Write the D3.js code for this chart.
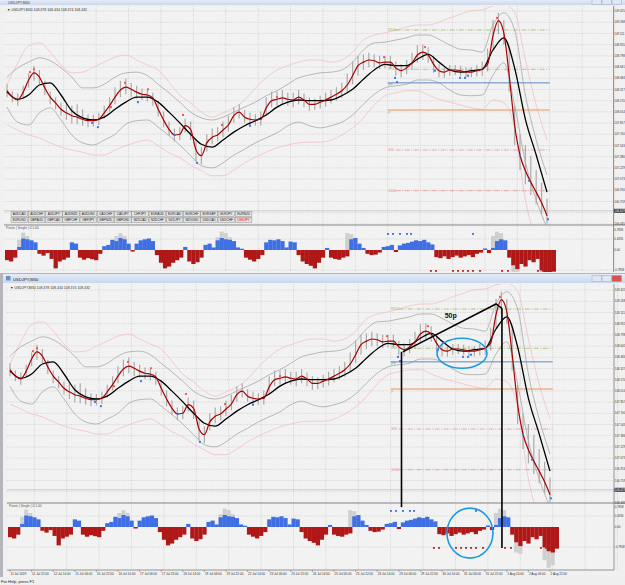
<!DOCTYPE html>
<html>
<head>
<meta charset="utf-8">
<script src="https://cdn.jsdelivr.net/npm/d3@7"></script>
<style>
body { margin: 0; background: #b4b6bb; }
svg { display: block; font-family: "Liberation Sans", "DejaVu Sans", sans-serif; }
</style>
</head>
<body>
<svg id="chart" width="625" height="585"></svg>
<script>
// ---- data (USDJPY M30, 11 Jul - 2 Aug 2019) ----
// times are trading hours from the first bar, sampled every 4 h (price) / 8 h (bands) / 3 h (histogram)
const fastStep = 4, bandStep = 8, histStep = 3, labelStep = 16;

const timeLabels = ["11 Jul 2019","11 Jul 22:00","12 Jul 14:00","15 Jul 06:00","15 Jul 22:00","16 Jul 14:00",
  "17 Jul 06:00","17 Jul 22:00","18 Jul 14:00","19 Jul 06:00","19 Jul 22:00","22 Jul 14:00","23 Jul 06:00",
  "23 Jul 22:00","24 Jul 14:00","25 Jul 06:00","25 Jul 22:00","26 Jul 14:00","29 Jul 06:00","29 Jul 22:00",
  "30 Jul 14:00","31 Jul 06:00","31 Jul 22:00","1 Aug 14:00","2 Aug 06:00","2 Aug 22:00"];
const dayStarts = [18,42,66,90,114,138,162,186,210,234,258,282,306,330,354,378,402,426,450];

const priceTicks = ["109.425","109.268","109.111","108.955","108.798","108.641","108.484","108.327","108.170",
  "108.014","107.857","107.700","107.543","107.386","107.229","107.073","106.916","106.759","106.602","106.445"];
const indTicks = ["0.7858","0.4335","0.00","-0.7858"];
const indGrid = [0.4335, -0.7858];

const redMA = [108.31,108.22,108.18,108.29,108.46,108.56,108.50,108.35,108.22,108.14,
  108.05,108.00,107.96,107.94,107.91,107.89,107.89,107.91,108.00,108.10,
  108.22,108.32,108.36,108.33,108.29,108.26,108.25,108.21,108.05,107.90,
  107.77,107.69,107.70,107.82,107.77,107.48,107.40,107.58,107.66,107.69,
  107.76,107.83,107.96,108.01,107.94,107.91,107.90,107.91,108.07,108.17,
  108.19,108.21,108.19,108.18,108.22,108.18,108.12,108.12,108.15,108.18,
  108.22,108.26,108.31,108.39,108.52,108.66,108.71,108.74,108.73,108.70,
  108.71,108.71,108.63,108.59,108.63,108.70,108.81,108.85,108.81,108.68,
  108.59,108.57,108.60,108.60,108.59,108.57,108.57,108.59,108.61,108.68,
  109.08,109.29,109.12,108.52,107.83,107.41,107.19,107.03,106.89,106.74,106.56];
const barHigh = [108.40,108.30,108.27,108.38,108.55,108.66,108.60,108.45,108.30,108.22,
  108.14,108.12,108.10,108.12,108.05,107.98,107.97,108.00,108.10,108.22,
  108.36,108.45,108.48,108.42,108.38,108.34,108.32,108.28,108.16,108.02,
  107.88,107.78,107.80,107.92,107.88,107.60,107.52,107.70,107.78,107.80,
  107.88,107.96,108.08,108.12,108.04,108.00,107.98,108.02,108.22,108.30,
  108.30,108.32,108.28,108.28,108.32,108.27,108.22,108.20,108.24,108.28,
  108.32,108.36,108.42,108.55,108.72,108.80,108.82,108.84,108.82,108.80,
  108.80,108.80,108.72,108.68,108.74,108.84,108.95,108.96,108.92,108.80,
  108.68,108.65,108.67,108.67,108.66,108.64,108.64,108.67,108.72,108.90,
  109.30,109.40,109.30,108.90,108.10,107.70,107.55,107.40,107.20,107.02,106.80];
const barLow = [108.22,108.15,108.10,108.20,108.36,108.45,108.40,108.25,108.12,108.05,
  107.96,107.90,107.85,107.84,107.82,107.80,107.81,107.83,107.92,108.02,
  108.12,108.22,108.26,108.22,108.20,108.18,108.16,108.10,107.95,107.80,
  107.68,107.60,107.62,107.72,107.62,107.32,107.28,107.46,107.56,107.60,
  107.66,107.74,107.86,107.92,107.86,107.83,107.82,107.82,107.96,108.08,
  108.10,108.12,108.10,108.08,108.12,108.08,108.03,108.04,108.06,108.09,
  108.13,108.17,108.21,108.28,108.40,108.52,108.60,108.64,108.64,108.61,
  108.62,108.62,108.52,108.50,108.54,108.60,108.70,108.74,108.70,108.56,
  108.50,108.49,108.52,108.53,108.52,108.50,108.50,108.51,108.52,108.58,
  108.90,109.10,108.95,108.30,107.55,107.20,107.00,106.85,106.72,106.58,106.45];

const blackMA = [108.29,108.19,108.25,108.39,108.42,108.25,108.03,107.93,107.90,107.94,
  108.05,108.15,108.22,108.22,108.15,108.01,107.86,107.70,107.56,107.52,
  107.62,107.73,107.82,107.89,107.97,108.08,108.15,108.18,108.17,108.17,
  108.18,108.24,108.33,108.47,108.60,108.68,108.66,108.66,108.75,108.82,
  108.71,108.60,108.57,108.59,108.61,108.88,109.05,108.63,107.91,107.41,106.89];
const greyUpper = [108.50,108.63,108.71,108.77,108.73,108.63,108.50,108.35,108.35,108.40,
  108.50,108.56,108.57,108.52,108.40,108.28,108.15,108.01,107.93,107.90,
  107.94,108.01,108.08,108.15,108.24,108.31,108.40,108.49,108.53,108.56,
  108.57,108.60,108.71,108.88,108.98,108.99,109.02,109.05,109.09,109.09,
  109.03,108.95,108.89,108.88,108.85,109.23,109.40,109.16,108.25,107.62,107.13];
const greyLower = [108.08,107.87,107.83,108.00,108.07,107.90,107.69,107.58,107.55,107.62,
  107.70,107.84,107.89,107.90,107.80,107.68,107.55,107.40,107.26,107.23,
  107.30,107.41,107.49,107.58,107.65,107.72,107.82,107.87,107.82,107.79,
  107.82,107.87,107.97,108.12,108.26,108.35,108.38,108.40,108.46,108.46,
  108.42,108.32,108.25,108.24,108.25,108.53,108.70,108.11,107.31,106.78,106.39];
const pinkUpper = [108.39,108.70,108.94,108.98,108.85,108.67,108.56,108.57,108.64,108.71,
  108.78,108.81,108.74,108.67,108.60,108.43,108.25,108.14,108.01,107.94,
  108.00,108.07,108.18,108.35,108.49,108.60,108.66,108.71,108.74,108.74,
  108.71,108.74,108.85,109.02,109.09,109.12,109.16,109.20,109.23,109.23,
  109.27,109.33,109.38,109.43,109.44,109.50,109.52,109.41,108.74,108.11,107.62];
const pinkLower = [107.83,107.76,107.69,107.65,107.58,107.52,107.48,107.45,107.41,107.41,
  107.48,107.54,107.59,107.62,107.54,107.44,107.37,107.27,107.19,107.12,
  107.12,107.20,107.30,107.38,107.45,107.51,107.55,107.58,107.59,107.59,
  107.62,107.69,107.79,107.93,108.11,108.24,108.28,108.31,108.31,108.25,
  108.19,108.15,108.11,108.07,108.05,108.18,108.14,107.79,106.78,106.22,105.94];

const upMarkH = [17,20,77,87.4,104.4,130.4,159.3,200,279.3,309.6,363];
const upMarkP = [108.57,108.61,108.08,108.42,108.33,107.97,107.83,108.22,108.78,108.92,109.33];
const dnMarkH = [63,67.4,97,124.4,140.7,180,287.4,288.9,317,335.6,339.3,341.5,380,386.7,400.7];
const dnMarkP = [107.86,107.80,108.15,107.69,107.30,107.82,108.49,108.43,108.59,108.49,108.49,108.52,107.40,107.05,106.51];

const levelNames = ["R100","R50","PP","P","S50","S100"];
const levelPrices = [109.16,108.61,108.42,108.04,107.48,106.91];
const levelFromH = 282, levelToH = 402;
const lastPrice = "106.629";

const histValues = [-0.40,-0.45,-0.30,0.12,0.45,0.42,0.38,0.30,-0.15,-0.22,
  -0.12,-0.35,-0.72,-0.45,-0.38,-0.30,0.30,0.25,-0.30,-0.38,
  -0.32,-0.36,-0.40,-0.15,0.15,0.20,0.40,0.35,0.47,0.42,
  0.25,-0.06,0.25,0.38,0.42,0.45,0.35,-0.20,-0.50,-0.72,
  -0.65,-0.50,-0.40,-0.30,0.12,-0.45,-0.55,-0.48,-0.30,0.20,
  0.25,0.10,0.38,0.47,0.42,0.40,0.35,0.10,0.05,-0.30,
  -0.38,-0.45,-0.35,-0.20,0.30,0.40,0.38,0.42,0.35,0.10,
  0.33,0.30,-0.20,-0.45,-0.55,-0.62,-0.72,-0.50,-0.30,0.08,
  -0.30,-0.35,-0.38,-0.30,-0.25,0.42,0.47,0.25,0.08,-0.15,
  -0.20,-0.18,-0.10,0.12,0.15,0.20,-0.08,0.18,0.25,0.28,
  0.33,0.38,0.35,0.40,0.30,0.22,-0.28,-0.32,-0.25,-0.35,
  -0.28,-0.22,-0.30,-0.25,-0.20,-0.28,-0.15,-0.10,0.06,-0.12,
  0.08,0.35,0.42,0.38,-0.30,-0.60,-0.75,-0.55,-0.65,-0.40,
  -0.48,-0.35,-0.80,-0.95,-1.00,-0.85];
const ghostIndex = [3,4,5,27,28,29,52,53,54,55,84,85,120,121,122,125,126,132,133,134];
const ghostValues = [0.40,0.68,0.55,0.55,0.66,0.55,0.50,0.72,0.66,0.50,0.66,0.62,0.55,0.72,0.66,-1.0,-1.05,-1.3,-1.6,-1.5];
const indUpDotH = [282.2,285.9,291.1,296.3,299.3,345.2];
const indDnDotH = [314,317.8,330.4,334.1,337.8,341.5,345.2,350.4,366.7,371.1,393.3,397];
const indUpDotV = 0.63, indDnDotV = -0.82;

const pairs = ["AUDCAD","AUDCHF","AUDJPY","AUDNZD","AUDUSD","CADCHF","CADJPY","CHFJPY","EURAUD","EURCAD",
  "EURCHF","EURGBP","EURJPY","EURNZD","EURUSD","GBPAUD","GBPCAD","GBPCHF","GBPJPY","GBPNZD",
  "GBPUSD","NZDCAD","NZDCHF","NZDJPY","NZDUSD","USDCAD","USDCHF","USDJPY"];

// hand drawn objects on the lower chart (time, price / indicator value)
const trendH = [291, 360, 364.4], trendP = [108.56, 109.23, 109.17];
const vlineH = [290, 364.4], vlineTopP = [108.56, 109.17], vlineEndV = [0.78, -0.82];
const ringH = 334.8, ringP = 108.54, ringIndH = 340.7, ringIndV = -0.24;
const noteH = 322, noteP = 109.03, noteText = "50p";

// ---- styles ----
const levelStyle = {
  R100: {c: "#a4b05a", dash: "5,1.5,1,1.5"}, R50: {c: "#a4b05a", dash: "5,1.5,1,1.5"},
  PP: {c: "#5b8bc0", dash: null}, P: {c: "#e6955a", dash: null},
  S50: {c: "#e58a8a", dash: "5,1.5,1,1.5"}, S100: {c: "#e58a8a", dash: "5,1.5,1,1.5"}
};
const plotBg = "#f2f2f2", gridC = "#b9b9b9", axisFont = 2.9;

const svg = d3.select("#chart");
const defs = svg.append("defs");
const grad = defs.append("linearGradient").attr("id", "title").attr("x1", 0).attr("x2", 0).attr("y1", 0).attr("y2", 1);
grad.append("stop").attr("offset", "0%").attr("stop-color", "#e4ecf7");
grad.append("stop").attr("offset", "100%").attr("stop-color", "#c9d8ee");

function panel(cfg) {
  const g = svg.append("g");
  const x = d3.scaleLinear().domain([0, 402]).range([cfg.x0, cfg.x0 + 542.7]);
  const y = d3.scaleLinear().domain([106.43, 109.496]).range([cfg.py1, cfg.py1 - 219]);
  const yi = d3.scaleLinear().domain([0, 1]).range([cfg.iz, cfg.iz - 25.5]);

  g.append("rect").attr("x", cfg.left).attr("y", cfg.top).attr("width", cfg.right - cfg.left)
    .attr("height", cfg.ib - cfg.top).attr("fill", plotBg);

  const clipId = "clip" + cfg.id, clipI = "clipi" + cfg.id;
  defs.append("clipPath").attr("id", clipId).append("rect")
    .attr("x", cfg.left).attr("y", cfg.top).attr("width", cfg.right - cfg.left).attr("height", cfg.pb - cfg.top);
  defs.append("clipPath").attr("id", clipI).append("rect")
    .attr("x", cfg.left).attr("y", cfg.pb).attr("width", cfg.right - cfg.left).attr("height", cfg.ib - cfg.pb);

  // grid
  const grid = g.append("g").attr("stroke", gridC).attr("stroke-width", 0.5).attr("stroke-dasharray", "1,1.2");
  grid.selectAll(".gv").data(dayStarts).join("line")
    .attr("x1", d => x(d)).attr("x2", d => x(d)).attr("y1", cfg.top).attr("y2", cfg.ib);
  grid.selectAll(".gh").data(priceTicks).join("line")
    .attr("x1", cfg.left).attr("x2", cfg.right).attr("y1", d => y(+d)).attr("y2", d => y(+d));
  grid.selectAll(".gi").data(indGrid).join("line")
    .attr("x1", cfg.left).attr("x2", cfg.right).attr("y1", d => yi(d)).attr("y2", d => yi(d));

  const main = g.append("g").attr("clip-path", `url(#${clipId})`);

  // bands
  const bandLine = d3.line().x((d, i) => x(i * bandStep)).y(d => y(d)).curve(d3.curveMonotoneX);
  [[pinkUpper, "#f3b9c2"], [pinkLower, "#f3b9c2"], [greyUpper, "#9d9d9d"], [greyLower, "#9d9d9d"]].forEach(([s, c]) =>
    main.append("path").attr("d", bandLine(s)).attr("fill", "none").attr("stroke", c).attr("stroke-width", 0.7));

  // level lines
  levelNames.forEach((n, i) => {
    const st = levelStyle[n], solid = !st.dash, ly = y(levelPrices[i]);
    main.append("line").attr("x1", x(levelFromH) + (solid ? 0 : 8)).attr("x2", x(levelToH))
      .attr("y1", ly).attr("y2", ly)
      .attr("stroke", st.c).attr("stroke-width", solid ? 1 : 0.7)
      .attr("stroke-dasharray", st.dash);
    main.append("text").attr("x", x(levelFromH) + 0.5).attr("y", solid ? ly + 3.6 : ly + 1.1)
      .attr("font-size", 3.3).attr("fill", st.c).text(n);
  });

  // current price line
  main.append("line").attr("x1", cfg.left).attr("x2", cfg.right)
    .attr("y1", y(+lastPrice)).attr("y2", y(+lastPrice)).attr("stroke", "#a9a9a9").attr("stroke-width", 0.5);

  // bars
  main.selectAll(".bar").data(barHigh).join("line")
    .attr("x1", (d, i) => x(i * fastStep)).attr("x2", (d, i) => x(i * fastStep))
    .attr("y1", d => y(d)).attr("y2", (d, i) => y(barLow[i]))
    .attr("stroke", "#ababab").attr("stroke-width", 1.2);

  // moving averages
  main.append("path").attr("d", bandLine(blackMA)).attr("fill", "none").attr("stroke", "#000").attr("stroke-width", 1.3);
  const fastLine = d3.line().x((d, i) => x(i * fastStep)).y(d => y(d)).curve(d3.curveMonotoneX);
  main.append("path").attr("d", fastLine(redMA)).attr("fill", "none").attr("stroke", "#a80000").attr("stroke-width", 1.2);

  // markers
  main.selectAll(".up").data(upMarkH).join("rect")
    .attr("x", d => x(d) - 1).attr("y", (d, i) => y(upMarkP[i]) - 1).attr("width", 2).attr("height", 2)
    .attr("fill", "#f05a5a");
  main.selectAll(".dn").data(dnMarkH).join("rect")
    .attr("x", d => x(d) - 1).attr("y", (d, i) => y(dnMarkP[i]) - 1).attr("width", 2).attr("height", 2)
    .attr("fill", "#3c78f0");

  // indicator
  const ind = g.append("g").attr("clip-path", `url(#${clipI})`);
  const bw = x(histStep) - x(0);
  ind.selectAll(".gh").data(ghostIndex).join("rect")
    .attr("x", d => x(d * histStep) - bw / 2).attr("width", bw)
    .attr("y", (d, i) => Math.min(yi(ghostValues[i]), yi(0)))
    .attr("height", (d, i) => Math.abs(yi(ghostValues[i]) - yi(0))).attr("fill", "#cfcfcf");
  ind.selectAll(".hb").data(histValues).join("rect")
    .attr("x", (d, i) => x(i * histStep) - bw / 2).attr("width", bw + 0.2)
    .attr("y", d => Math.min(yi(d), yi(0))).attr("height", d => Math.abs(yi(d) - yi(0)))
    .attr("fill", d => d >= 0 ? "#3f6fe2" : "#b01717");
  ind.selectAll(".iu").data(indUpDotH).join("rect")
    .attr("x", d => x(d) - 1).attr("y", yi(indUpDotV) - 0.8).attr("width", 2).attr("height", 1.6).attr("fill", "#2f62d8");
  ind.selectAll(".id").data(indDnDotH).join("rect")
    .attr("x", d => x(d) - 1).attr("y", yi(indDnDotV) - 0.8).attr("width", 2).attr("height", 1.6).attr("fill", "#b01717");

  // frame lines
  g.append("line").attr("x1", cfg.left).attr("x2", 625).attr("y1", cfg.pb).attr("y2", cfg.pb)
    .attr("stroke", "#6e6e6e").attr("stroke-width", 0.8);
  g.append("line").attr("x1", cfg.right).attr("x2", cfg.right).attr("y1", cfg.top).attr("y2", cfg.ib)
    .attr("stroke", "#555").attr("stroke-width", 0.6);

  // price axis (labels hidden under the current price box)
  const lastY = y(+lastPrice);
  g.selectAll(".pt").data(priceTicks.filter(d => Math.abs(y(+d) - lastY) > 4)).join("text")
    .attr("x", cfg.right + 0.8).attr("y", d => y(+d) + 1).attr("font-size", axisFont).attr("fill", "#333").text(d => d);
  g.append("rect").attr("x", cfg.right + 0.4).attr("y", lastY - 2).attr("width", 11.2).attr("height", 4).attr("fill", "#333");
  g.append("text").attr("x", cfg.right + 0.8).attr("y", lastY + 1).attr("font-size", axisFont).attr("fill", "#fff").text(lastPrice);
  g.selectAll(".it").data(indTicks).join("text")
    .attr("x", cfg.right + 0.8).attr("y", d => yi(+d) + 1).attr("font-size", axisFont).attr("fill", "#333").text(d => d);

  // headers
  g.append("text").attr("x", cfg.left + 3).attr("y", cfg.top + 4.5).attr("font-size", 3.5).attr("fill", "#333")
    .text("\u25BC USDJPY,M30  108.378 108.434 108.374 108.432");
  g.append("text").attr("x", cfg.left + 2).attr("y", cfg.pb + 4).attr("font-size", 3.3).attr("fill", "#555")
    .text("Pivots | Single | 0.1.00");
  return {g, x, y, yi};
}

// top window
svg.append("rect").attr("x", 0).attr("y", 0).attr("width", 625).attr("height", 273).attr("fill", "#f0f0f0");
svg.append("rect").attr("x", 0).attr("y", 0).attr("width", 625).attr("height", 5).attr("fill", "url(#title)");
svg.append("text").attr("x", 8).attr("y", 3.6).attr("font-size", 3.6).attr("fill", "#445").text("USDJPY,M30");
const topPanel = panel({id: "t", left: 4, right: 613.5, top: 6, pb: 225, ib: 272, x0: 7, py1: 225, iz: 250});

// pair buttons
const btnW = 17.25;
pairs.forEach((p, i) => {
  const c = i % 14, r = Math.floor(i / 14);
  const bx = 11 + c * btnW, by = 211.5 + r * 5.8;
  topPanel.g.append("rect").attr("x", bx).attr("y", by).attr("width", btnW - 0.6).attr("height", 5.2)
    .attr("fill", "#e2e2e2").attr("stroke", "#7a7a7a").attr("stroke-width", 0.4);
  topPanel.g.append("text").attr("x", bx + (btnW - 0.6) / 2).attr("y", by + 3.7).attr("text-anchor", "middle")
    .attr("font-size", 3.1).attr("fill", p === "USDJPY" ? "#e00000" : "#222").text(p);
});

// bottom window
svg.append("rect").attr("x", 3).attr("y", 274).attr("width", 622).attr("height", 303).attr("fill", "#f0f0f0");
svg.append("rect").attr("x", 3).attr("y", 274).attr("width", 622).attr("height", 9).attr("fill", "url(#title)");
svg.append("rect").attr("x", 6).attr("y", 276).attr("width", 4.5).attr("height", 4.5).attr("fill", "#6d8fc2");
svg.append("text").attr("x", 13).attr("y", 280.6).attr("font-size", 4.2).attr("fill", "#223").text("USDJPY,M30");
[[592, "#dfe7f2"], [602, "#dfe7f2"], [612, "#d9534a"]].forEach(([bx, c]) =>
  svg.append("rect").attr("x", bx).attr("y", 275.5).attr("width", 9.5).attr("height", 6).attr("fill", c)
    .attr("stroke", "#8a9bb3").attr("stroke-width", 0.4));
[592, 602, 612].forEach(bx =>
  svg.append("rect").attr("x", bx).attr("y", -1).attr("width", 9.5).attr("height", 5.5).attr("fill", "#dfe7f2")
    .attr("stroke", "#8a9bb3").attr("stroke-width", 0.4));
const botPanel = panel({id: "b", left: 7, right: 614, top: 284, pb: 503, ib: 570, x0: 10, py1: 504, iz: 527});

// time axis
svg.append("line").attr("x1", 7).attr("x2", 614).attr("y1", 570).attr("y2", 570).attr("stroke", "#555").attr("stroke-width", 0.6);
svg.selectAll(".tl").data(timeLabels).join("text")
  .attr("x", (d, i) => botPanel.x(i * labelStep) + 0.5).attr("y", 574.5).attr("font-size", axisFont + 0.2).attr("fill", "#333").text(d => d);
svg.selectAll(".tk").data(timeLabels).join("line")
  .attr("x1", (d, i) => botPanel.x(i * labelStep)).attr("x2", (d, i) => botPanel.x(i * labelStep))
  .attr("y1", 570).attr("y2", 572).attr("stroke", "#555").attr("stroke-width", 0.4);

// status bar
svg.append("rect").attr("x", 0).attr("y", 577).attr("width", 625).attr("height", 8).attr("fill", "#efefef");
svg.append("text").attr("x", 1).attr("y", 582.5).attr("font-size", 4).attr("fill", "#222").text("For Help, press F1");

// drawn objects on the lower chart
const ann = svg.append("g").attr("fill", "none");
ann.append("path").attr("d", d3.line()(trendH.map((h, i) => [botPanel.x(h), botPanel.y(trendP[i])])))
  .attr("stroke", "#000").attr("stroke-width", 1.5);
vlineH.forEach((h, i) => ann.append("line").attr("x1", botPanel.x(h)).attr("x2", botPanel.x(h))
  .attr("y1", botPanel.y(vlineTopP[i])).attr("y2", botPanel.yi(vlineEndV[i])).attr("stroke", "#000").attr("stroke-width", 1.6));
ann.append("ellipse").attr("cx", botPanel.x(ringH)).attr("cy", botPanel.y(ringP)).attr("rx", 25).attr("ry", 15)
  .attr("stroke", "#1b9ae4").attr("stroke-width", 1.6);
ann.append("ellipse").attr("cx", botPanel.x(ringIndH)).attr("cy", botPanel.yi(ringIndV)).attr("rx", 23).attr("ry", 25)
  .attr("stroke", "#1b9ae4").attr("stroke-width", 1.6);
svg.append("text").attr("x", botPanel.x(noteH)).attr("y", botPanel.y(noteP)).attr("font-size", 7).attr("font-weight", "bold")
  .attr("fill", "#111").text(noteText);
</script>
</body>
</html>
